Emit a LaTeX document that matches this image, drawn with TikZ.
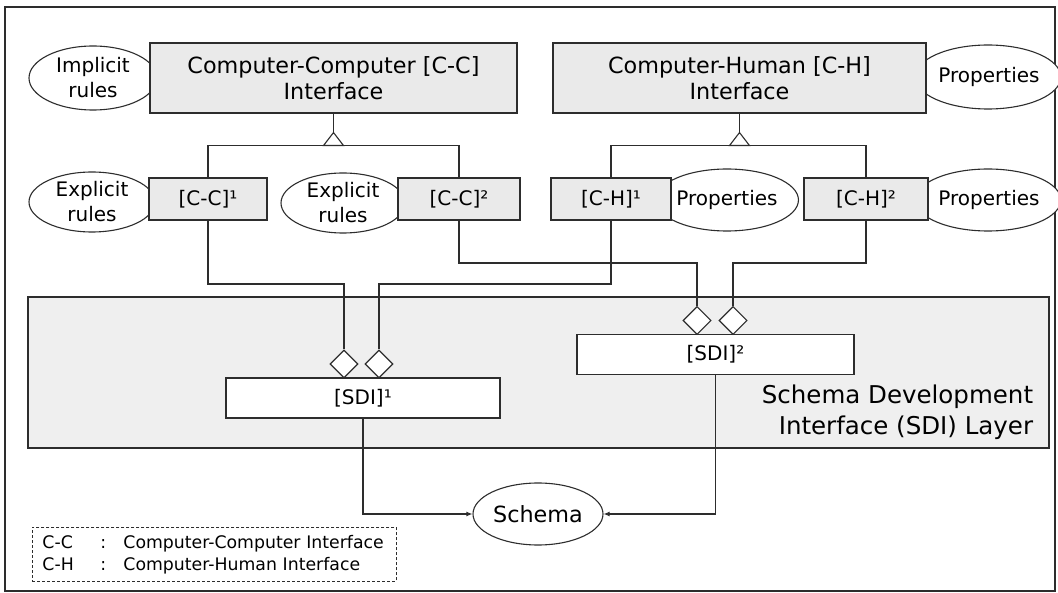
\documentclass[tikz,border=0pt]{standalone}
\usepackage{fontspec}
\setmainfont{DejaVu Sans}
\usepackage{tikz}
\usetikzlibrary{calc, shapes.geometric, arrows.meta}
\definecolor{boxgrey}{RGB}{234,234,234}
\definecolor{layergrey}{RGB}{239,239,239}
\definecolor{inkgrey}{RGB}{45,45,45}
\newcommand{\bigtxt}{\fontsize{22.3}{26}\selectfont}
\newcommand{\midtxt}{\fontsize{20}{25}\selectfont}
\newcommand{\laytxt}{\fontsize{24.5}{31}\selectfont}
\newcommand{\legtxt}{\fontsize{17.3}{22}\selectfont}

\begin{document}
\begin{tikzpicture}[x=1pt, y=-1pt, line width=1.1pt, color=inkgrey, text=black,
    ifacebox/.style={draw, fill=boxgrey, inner sep=0pt, align=center, minimum height=70, font=\bigtxt},
    childbox/.style={draw, fill=boxgrey, inner sep=0pt, minimum height=42, font=\midtxt},
    sdibox/.style={draw, fill=white, inner sep=0pt, minimum height=40, font=\midtxt},
    bubble/.style={draw, ellipse, fill=white, inner sep=0pt, align=center, font=\midtxt},
    aggr/.style={draw, diamond, fill=white, inner sep=0pt, minimum width=28, minimum height=28},
    tip/.style={-{Latex[length=6pt, width=5pt]}}]
  \useasboundingbox (0,0) rectangle (1058,593);
  \draw (5,7) rectangle (1055,591);

  \node[draw, fill=layergrey, inner sep=0pt, minimum width=1021, minimum height=151] (layer) at (538.5,372.5) {};
  \node[anchor=east, align=right, font=\laytxt] (layername) at (1037,412) {Schema Development\\Interface (SDI) Layer};

  \node[bubble, minimum width=128, minimum height=64] (implicit) at (93,78) {Implicit\\rules};
  \node[bubble, minimum width=126, minimum height=60] (explicit1) at (92,202) {Explicit\\rules};
  \node[bubble, minimum width=124, minimum height=60] (explicit2) at (343,203) {Explicit\\rules};
  \node[bubble, minimum width=124, minimum height=64] (prop0) at (988,77) {\hspace*{2pt}Properties};
  \node[bubble, minimum width=124, minimum height=62] (prop1) at (727,200) {Properties};
  \node[bubble, minimum width=124, minimum height=62] (prop2) at (988,200) {\hspace*{2pt}Properties};

  \node[ifacebox, minimum width=367] (cc) at (333.5,78) {Computer-Computer [C-C]\\Interface};
  \node[ifacebox, minimum width=373] (ch) at (739.5,78) {Computer-Human [C-H]\\Interface};

  \node[childbox, minimum width=118] (cc1) at (208,199) {[C-C]¹};
  \node[childbox, minimum width=122] (cc2) at (459,199) {[C-C]²};
  \node[childbox, minimum width=120] (ch1) at (611,199) {[C-H]¹};
  \node[childbox, minimum width=124] (ch2) at (866,199) {[C-H]²};

  \coordinate (cctip) at ($(cc.south)+(0,19)$);
  \coordinate (chtip) at ($(ch.south)+(0,19)$);
  \draw (cc.south) -- (cctip);
  \draw (ch.south) -- (chtip);
  \draw (cc1.north) |- ($(cctip)+(0,13)$) -| (cc2.north);
  \draw (ch1.north) |- ($(chtip)+(0,13)$) -| (ch2.north);
  \draw[fill=white] (cctip) -- ++(-10,13) -- ++(20,0) -- cycle;
  \draw[fill=white] (chtip) -- ++(-10,13) -- ++(20,0) -- cycle;

  \node[sdibox, minimum width=274] (sdi1) at (363,398) {[SDI]¹};
  \node[sdibox, minimum width=277] (sdi2) at (715.5,354.5) {[SDI]²};
  \node[aggr] (agg11) at (344,364) {};
  \node[aggr] (agg12) at (379,364) {};
  \node[aggr] (agg21) at (697,320.5) {};
  \node[aggr] (agg22) at (733,320.5) {};

  \coordinate (lowrun) at (0,284);
  \coordinate (highrun) at (0,263);
  \draw (cc1.south) -- (cc1.south |- lowrun) -| (agg11.north);
  \draw (ch1.south) -- (ch1.south |- lowrun) -| (agg12.north);
  \draw (cc2.south) -- (cc2.south |- highrun) -| (agg21.north);
  \draw (ch2.south) -- (ch2.south |- highrun) -| (agg22.north);

  \node[bubble, minimum width=130, minimum height=62, font=\bigtxt] (schema) at (538,514) {Schema};
  \draw[tip] (sdi1.south) |- (schema.west);
  \draw[tip] (sdi2.south) |- (schema.east);

  \node[draw, dash pattern=on 3pt off 2pt, line width=0.9pt, anchor=north west, inner xsep=10pt, inner ysep=0pt,
    text width=344pt, minimum height=54, align=left, font=\legtxt] (legend) at (32,527)
    {\makebox[58pt][l]{C-C}\makebox[23pt][l]{:}Computer-Computer Interface\\
     \makebox[58pt][l]{C-H}\makebox[23pt][l]{:}Computer-Human Interface};
\end{tikzpicture}
\end{document}
